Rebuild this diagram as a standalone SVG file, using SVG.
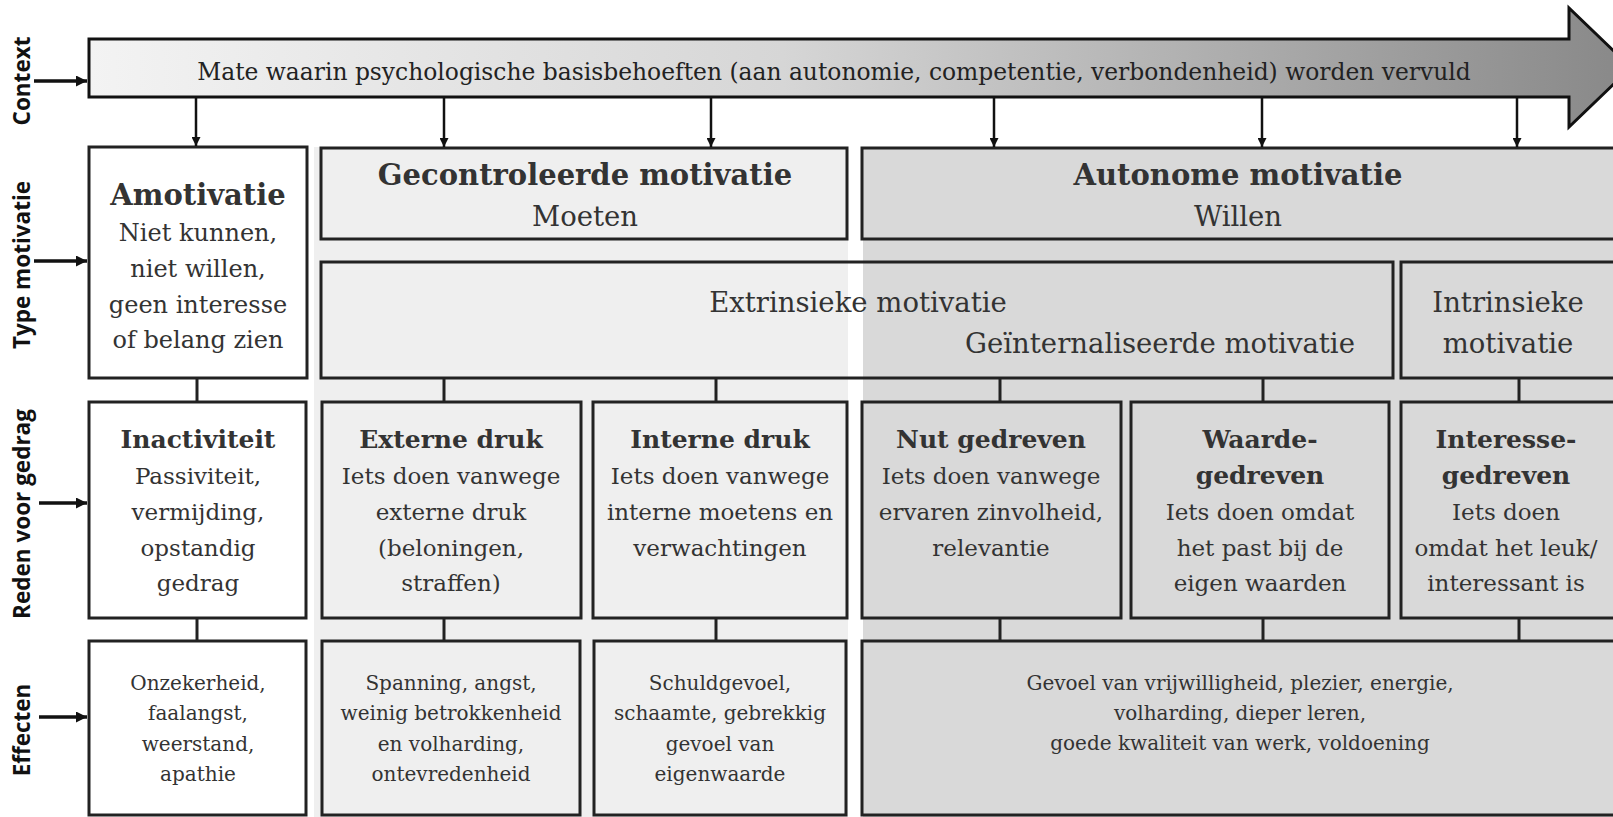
<svg xmlns="http://www.w3.org/2000/svg" width="1613" height="817" viewBox="0 0 1613 817">
<defs>
  <linearGradient id="ctxGrad" gradientUnits="userSpaceOnUse" x1="89" y1="0" x2="1630" y2="0">
    <stop offset="0" stop-color="#f3f3f3"/>
    <stop offset="0.45" stop-color="#d6d6d6"/>
    <stop offset="1" stop-color="#888888"/>
  </linearGradient>
  <marker id="ah" markerUnits="userSpaceOnUse" markerWidth="11" markerHeight="11" refX="11" refY="5.5" orient="auto" viewBox="0 0 11 11">
    <path d="M0,0 L11,5.5 L0,11 z" fill="#111"/>
  </marker>
  <marker id="ahs" markerUnits="userSpaceOnUse" markerWidth="9" markerHeight="9" refX="9" refY="4.5" orient="auto" viewBox="0 0 9 9">
    <path d="M0,0 L9,4.5 L0,9 z" fill="#111"/>
  </marker>
</defs>
<style>
  .box{fill:none;stroke:#222;stroke-width:3}
  .wbox{fill:#ffffff;stroke:#222;stroke-width:3}
  .t{font-family:"DejaVu Serif","Liberation Serif",serif;fill:#333;text-anchor:middle}
  .ctx{font-size:23.4px;fill:#222}
  .h2{font-size:29px;font-weight:bold}
  .r2{font-size:27.5px}
  .ah{font-size:29px;font-weight:bold}
  .ab{font-size:24px}
  .h3{font-size:25px;font-weight:bold}
  .b3{font-size:23px}
  .b4{font-size:20px}
  .lbl{font-family:"Open Sans","DejaVu Sans",sans-serif;font-weight:bold;font-size:22.5px;fill:#111;text-anchor:middle}
  .con{stroke:#222;stroke-width:3;fill:none}
  .arr{stroke:#111;stroke-width:2.5;fill:none}
  .larr{stroke:#111;stroke-width:3.5;fill:none}
</style>

<rect x="0" y="0" width="1613" height="817" fill="#ffffff"/>
<g id="backgrounds">
  <rect x="314" y="147" width="534" height="670" fill="#efefef"/>
  <rect x="863" y="147" width="750" height="670" fill="#d9d9d9"/>
</g>

<g id="row-labels">
  <text class="lbl" transform="translate(30,81) rotate(-90)">Context</text>
  <text class="lbl" transform="translate(30,265) rotate(-90)">Type motivatie</text>
  <text class="lbl" transform="translate(30,514) rotate(-90)">Reden voor gedrag</text>
  <text class="lbl" transform="translate(30,730) rotate(-90)">Effecten</text>
</g>

<g id="context">
  <polygon points="89,39 1569,39 1569,8 1631,67.5 1569,127 1569,97 89,97" fill="url(#ctxGrad)" stroke="#111" stroke-width="3"/>
  <text class="t ctx" x="834" y="80">Mate waarin psychologische basisbehoeften (aan autonomie, competentie, verbondenheid) worden vervuld</text>
</g>

<g id="amotivatie">
  <rect class="wbox" x="89" y="147" width="218" height="231"/>
  <text class="t ah" x="198" y="205">Amotivatie</text>
  <text class="t ab" x="198" y="241">Niet kunnen,</text>
  <text class="t ab" x="198" y="277">niet willen,</text>
  <text class="t ab" x="198" y="313">geen interesse</text>
  <text class="t ab" x="198" y="348">of belang zien</text>
</g>

<g id="gecontroleerde-motivatie">
  <rect class="box" x="321" y="148" width="526" height="91"/>
  <text class="t h2" x="585" y="185">Gecontroleerde motivatie</text>
  <text class="t r2" x="585" y="226">Moeten</text>
</g>

<g id="autonome-motivatie">
  <rect class="box" x="862" y="148" width="760" height="91"/>
  <text class="t h2" x="1238" y="185">Autonome motivatie</text>
  <text class="t r2" x="1238" y="226">Willen</text>
</g>

<g id="extrinsieke-motivatie">
  <rect class="box" x="321" y="262" width="1072" height="116"/>
  <text class="t r2" x="858" y="312">Extrinsieke motivatie</text>
  <text class="t r2" x="1160" y="353">Geïnternaliseerde motivatie</text>
</g>

<g id="intrinsieke-motivatie">
  <rect class="box" x="1401" y="262" width="220" height="116"/>
  <text class="t r2" x="1508" y="312">Intrinsieke</text>
  <text class="t r2" x="1508" y="353">motivatie</text>
</g>

<g id="inactiviteit">
  <rect class="wbox" x="89" y="402" width="217" height="216"/>
  <text class="t h3" x="198" y="448">Inactiviteit</text>
  <text class="t b3" x="198" y="484">Passiviteit,</text>
  <text class="t b3" x="198" y="520">vermijding,</text>
  <text class="t b3" x="198" y="556">opstandig</text>
  <text class="t b3" x="198" y="591">gedrag</text>
</g>

<g id="externe-druk">
  <rect class="box" x="322" y="402" width="259" height="216"/>
  <text class="t h3" x="451" y="448">Externe druk</text>
  <text class="t b3" x="451" y="484">Iets doen vanwege</text>
  <text class="t b3" x="451" y="520">externe druk</text>
  <text class="t b3" x="451" y="556">(beloningen,</text>
  <text class="t b3" x="451" y="591">straffen)</text>
</g>

<g id="interne-druk">
  <rect class="box" x="593" y="402" width="254" height="216"/>
  <text class="t h3" x="720" y="448">Interne druk</text>
  <text class="t b3" x="720" y="484">Iets doen vanwege</text>
  <text class="t b3" x="720" y="520">interne moetens en</text>
  <text class="t b3" x="720" y="556">verwachtingen</text>
</g>

<g id="nut-gedreven">
  <rect class="box" x="862" y="402" width="259" height="216"/>
  <text class="t h3" x="991" y="448">Nut gedreven</text>
  <text class="t b3" x="991" y="484">Iets doen vanwege</text>
  <text class="t b3" x="991" y="520">ervaren zinvolheid,</text>
  <text class="t b3" x="991" y="556">relevantie</text>
</g>

<g id="waarde-gedreven">
  <rect class="box" x="1131" y="402" width="258" height="216"/>
  <text class="t h3" x="1260" y="448">Waarde-</text>
  <text class="t h3" x="1260" y="484">gedreven</text>
  <text class="t b3" x="1260" y="520">Iets doen omdat</text>
  <text class="t b3" x="1260" y="556">het past bij de</text>
  <text class="t b3" x="1260" y="591">eigen waarden</text>
</g>

<g id="interesse-gedreven">
  <rect class="box" x="1401" y="402" width="220" height="216"/>
  <text class="t h3" x="1506" y="448">Interesse-</text>
  <text class="t h3" x="1506" y="484">gedreven</text>
  <text class="t b3" x="1506" y="520">Iets doen</text>
  <text class="t b3" x="1506" y="556">omdat het leuk/</text>
  <text class="t b3" x="1506" y="591">interessant is</text>
</g>

<g id="effect-amotivatie">
  <rect class="wbox" x="89" y="641" width="217" height="174"/>
  <text class="t b4" x="198" y="690">Onzekerheid,</text>
  <text class="t b4" x="198" y="720">faalangst,</text>
  <text class="t b4" x="198" y="751">weerstand,</text>
  <text class="t b4" x="198" y="781">apathie</text>
</g>

<g id="effect-externe-druk">
  <rect class="box" x="322" y="641" width="258" height="174"/>
  <text class="t b4" x="451" y="690">Spanning, angst,</text>
  <text class="t b4" x="451" y="720">weinig betrokkenheid</text>
  <text class="t b4" x="451" y="751">en volharding,</text>
  <text class="t b4" x="451" y="781">ontevredenheid</text>
</g>

<g id="effect-interne-druk">
  <rect class="box" x="594" y="641" width="252" height="174"/>
  <text class="t b4" x="720" y="690">Schuldgevoel,</text>
  <text class="t b4" x="720" y="720">schaamte, gebrekkig</text>
  <text class="t b4" x="720" y="751">gevoel van</text>
  <text class="t b4" x="720" y="781">eigenwaarde</text>
</g>

<g id="effect-autonoom">
  <rect class="box" x="862" y="641" width="760" height="174"/>
  <text class="t b4" x="1240" y="690">Gevoel van vrijwilligheid, plezier, energie,</text>
  <text class="t b4" x="1240" y="720">volharding, dieper leren,</text>
  <text class="t b4" x="1240" y="750">goede kwaliteit van werk, voldoening</text>
</g>

<g id="connectors">
  <line class="larr" x1="34" y1="81" x2="87" y2="81" marker-end="url(#ah)"/>
  <line class="larr" x1="34" y1="261" x2="87" y2="261" marker-end="url(#ah)"/>
  <line class="larr" x1="39" y1="503" x2="87" y2="503" marker-end="url(#ah)"/>
  <line class="larr" x1="39" y1="717" x2="87" y2="717" marker-end="url(#ah)"/>

  <line class="arr" x1="196" y1="98" x2="196" y2="146" marker-end="url(#ahs)"/>
  <line class="arr" x1="444" y1="98" x2="444" y2="147" marker-end="url(#ahs)"/>
  <line class="arr" x1="711" y1="98" x2="711" y2="147" marker-end="url(#ahs)"/>
  <line class="arr" x1="994" y1="98" x2="994" y2="147" marker-end="url(#ahs)"/>
  <line class="arr" x1="1262" y1="98" x2="1262" y2="147" marker-end="url(#ahs)"/>
  <line class="arr" x1="1517" y1="98" x2="1517" y2="147" marker-end="url(#ahs)"/>

  <line class="con" x1="197" y1="378" x2="197" y2="402"/>
  <line class="con" x1="444" y1="378" x2="444" y2="402"/>
  <line class="con" x1="716" y1="378" x2="716" y2="402"/>
  <line class="con" x1="1000" y1="378" x2="1000" y2="402"/>
  <line class="con" x1="1263" y1="378" x2="1263" y2="402"/>
  <line class="con" x1="1519" y1="378" x2="1519" y2="402"/>

  <line class="con" x1="197" y1="618" x2="197" y2="641"/>
  <line class="con" x1="444" y1="618" x2="444" y2="641"/>
  <line class="con" x1="716" y1="618" x2="716" y2="641"/>
  <line class="con" x1="1000" y1="618" x2="1000" y2="641"/>
  <line class="con" x1="1263" y1="618" x2="1263" y2="641"/>
  <line class="con" x1="1519" y1="618" x2="1519" y2="641"/>
</g>
</svg>
